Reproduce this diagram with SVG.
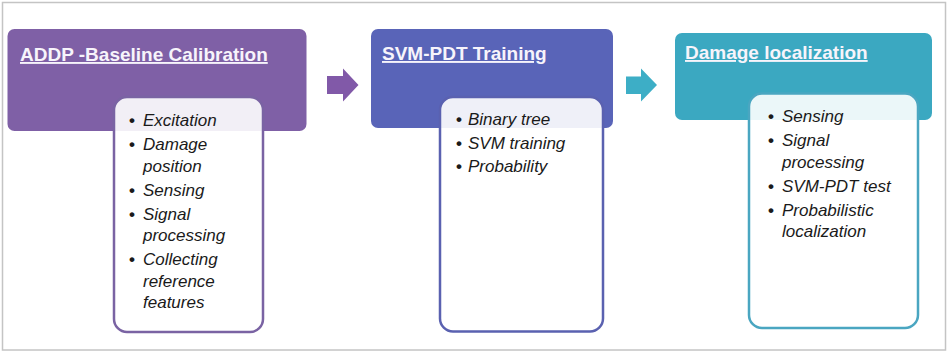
<svg xmlns="http://www.w3.org/2000/svg" width="948" height="352" viewBox="0 0 948 352">
<style>
.frame{fill:#fff;stroke:#c4c4c4;stroke-width:1.5}
.title{font-family:"Liberation Sans",Arial,sans-serif;font-weight:bold;font-size:19px;fill:#f7f4fb;text-decoration:underline}
.item{font-family:"Liberation Sans",Arial,sans-serif;font-style:italic;font-size:17px;fill:#1a1a1a}
.b{font-style:normal;font-weight:bold}
.inner{fill:#fff;fill-opacity:0.9;stroke-width:2.5}
</style>
<rect class="frame" x="2.5" y="2.5" width="943" height="347.5"/>
<g id="connectors">
<polygon points="327,76 343,76 343,68.5 358.5,85 343,101.5 343,94 327,94" fill="#8159a8"/>
<polygon points="626,76.5 641,76.5 641,68.5 657,85 641,101.5 641,94 626,94" fill="#3daec6"/>
</g>
<g id="node-baseline">
<rect x="7.5" y="29" width="299" height="102" rx="7" fill="#7f60a6"/>
<text class="title" x="20" y="61">ADDP -Baseline Calibration</text>
<rect class="inner" x="114" y="97" width="149" height="235" rx="13" stroke="#7a63a3"/>
<text class="item">
<tspan class="b" x="129" y="126">•</tspan><tspan x="143" y="126">Excitation</tspan>
<tspan class="b" x="129" y="150">•</tspan><tspan x="143" y="150">Damage</tspan>
<tspan x="143" y="171.5">position</tspan>
<tspan class="b" x="129" y="195.5">•</tspan><tspan x="143" y="195.5">Sensing</tspan>
<tspan class="b" x="129" y="219.5">•</tspan><tspan x="143" y="219.5">Signal</tspan>
<tspan x="143" y="241">processing</tspan>
<tspan class="b" x="129" y="265">•</tspan><tspan x="143" y="265">Collecting</tspan>
<tspan x="143" y="286.5">reference</tspan>
<tspan x="143" y="308">features</tspan>
</text>
</g>
<g id="node-training">
<rect x="371" y="29" width="242" height="99" rx="7" fill="#5964b8"/>
<text class="title" x="382" y="60">SVM-PDT Training</text>
<rect class="inner" x="440" y="97" width="163" height="234.5" rx="13" stroke="#5a61b0"/>
<text class="item">
<tspan class="b" x="456" y="125">•</tspan><tspan x="468" y="125">Binary tree</tspan>
<tspan class="b" x="456" y="148.5">•</tspan><tspan x="468" y="148.5">SVM training</tspan>
<tspan class="b" x="456" y="172">•</tspan><tspan x="468" y="172">Probability</tspan>
</text>
</g>
<g id="node-localization">
<rect x="675" y="33" width="257" height="87" rx="7" fill="#3ba8c1"/>
<text class="title" x="685" y="59">Damage localization</text>
<rect class="inner" x="749" y="93.5" width="169" height="234.5" rx="13" stroke="#4aa6c1"/>
<text class="item">
<tspan class="b" x="768" y="122">•</tspan><tspan x="782" y="122">Sensing</tspan>
<tspan class="b" x="768" y="146">•</tspan><tspan x="782" y="146">Signal</tspan>
<tspan x="782" y="167.5">processing</tspan>
<tspan class="b" x="768" y="191.5">•</tspan><tspan x="782" y="191.5">SVM-PDT test</tspan>
<tspan class="b" x="768" y="215.5">•</tspan><tspan x="782" y="215.5">Probabilistic</tspan>
<tspan x="782" y="237">localization</tspan>
</text>
</g>
</svg>
